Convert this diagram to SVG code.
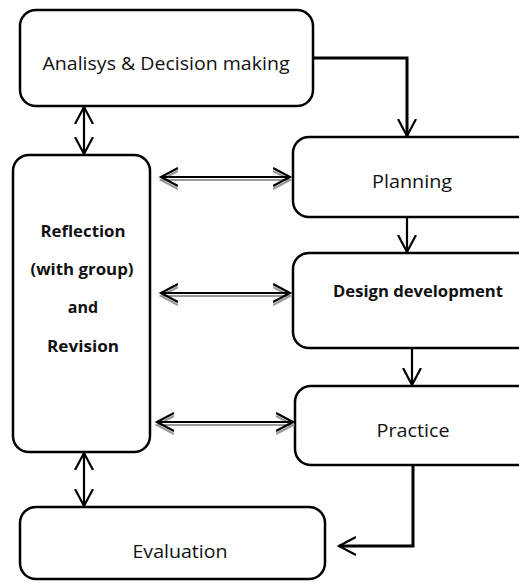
<svg xmlns="http://www.w3.org/2000/svg" width="519" height="582" viewBox="0 0 519 582">
<style>
.box{fill:#fff;stroke:#000;stroke-width:2.5}
.t{font-family:"Open Sans","Liberation Sans",sans-serif;font-size:18px;fill:#111;text-anchor:middle}
.b{font-weight:bold;font-size:16px}
.c{fill:none;stroke:#000;stroke-width:2.2}
.sh{fill:none;stroke:#999;stroke-width:2.2}
</style>
<defs>
<marker id="ah" markerUnits="userSpaceOnUse" markerWidth="20" markerHeight="22" refX="17" refY="10" orient="auto-start-reverse" viewBox="0 0 20 22">
<path d="M0,1 L17,10 L0,19" fill="none" stroke="#000" stroke-width="2.2"/>
</marker>
<marker id="ahs" markerUnits="userSpaceOnUse" markerWidth="20" markerHeight="22" refX="17" refY="10" orient="auto-start-reverse" viewBox="0 0 20 22">
<path d="M0,1 L17,10 L0,19" fill="none" stroke="#999" stroke-width="2.2"/>
</marker>
</defs>
<rect width="519" height="582" fill="#fff"/>
<g id="analysis">
<rect class="box" x="20" y="10" width="293" height="96" rx="16"/>
<text class="t" x="166" y="70" textLength="247" lengthAdjust="spacingAndGlyphs">Analisys &amp; Decision making</text>
</g>
<g id="reflection">
<rect class="box" x="13" y="155" width="137" height="297" rx="16"/>
<text class="t b" x="83" y="237" textLength="85" lengthAdjust="spacingAndGlyphs">Reflection</text>
<text class="t b" x="82" y="275" textLength="103" lengthAdjust="spacingAndGlyphs">(with group)</text>
<text class="t b" x="83" y="313">and</text>
<text class="t b" x="83" y="352" textLength="72" lengthAdjust="spacingAndGlyphs">Revision</text>
</g>
<g id="planning">
<rect class="box" x="293" y="137" width="240" height="80" rx="16"/>
<text class="t" x="412" y="188" textLength="80" lengthAdjust="spacingAndGlyphs">Planning</text>
</g>
<g id="design">
<rect class="box" x="293" y="253" width="240" height="95" rx="16"/>
<text class="t b" x="418" y="297" textLength="170" lengthAdjust="spacingAndGlyphs">Design development</text>
</g>
<g id="practice">
<rect class="box" x="295" y="386" width="240" height="79" rx="16"/>
<text class="t" x="413" y="437" textLength="73" lengthAdjust="spacingAndGlyphs">Practice</text>
</g>
<g id="evaluation">
<rect class="box" x="20" y="507" width="305" height="72" rx="16"/>
<text class="t" x="180" y="558" textLength="95" lengthAdjust="spacingAndGlyphs">Evaluation</text>
</g>
<g id="connectors">
<path d="M313,58 H407 V136" fill="none" stroke="#000" stroke-width="3" marker-end="url(#ah)"/>
<path d="M407,218 V252" class="c" marker-end="url(#ah)"/>
<path d="M412,349 V385" class="c" marker-end="url(#ah)"/>
<path d="M413,466 V546 H339" fill="none" stroke="#000" stroke-width="3" marker-end="url(#ah)"/>
<path d="M84,107 V154" class="c" marker-start="url(#ah)" marker-end="url(#ah)"/>
<path d="M84,453 V506" class="c" marker-start="url(#ah)" marker-end="url(#ah)"/>
<path d="M161,180 H290" class="sh" marker-start="url(#ahs)" marker-end="url(#ahs)"/>
<path d="M161,177 H290" class="c" marker-start="url(#ah)" marker-end="url(#ah)"/>
<path d="M161,296 H290" class="sh" marker-start="url(#ahs)" marker-end="url(#ahs)"/>
<path d="M161,293 H290" class="c" marker-start="url(#ah)" marker-end="url(#ah)"/>
<path d="M157,425 H293" class="sh" marker-start="url(#ahs)" marker-end="url(#ahs)"/>
<path d="M157,422 H293" class="c" marker-start="url(#ah)" marker-end="url(#ah)"/>
</g>
</svg>
